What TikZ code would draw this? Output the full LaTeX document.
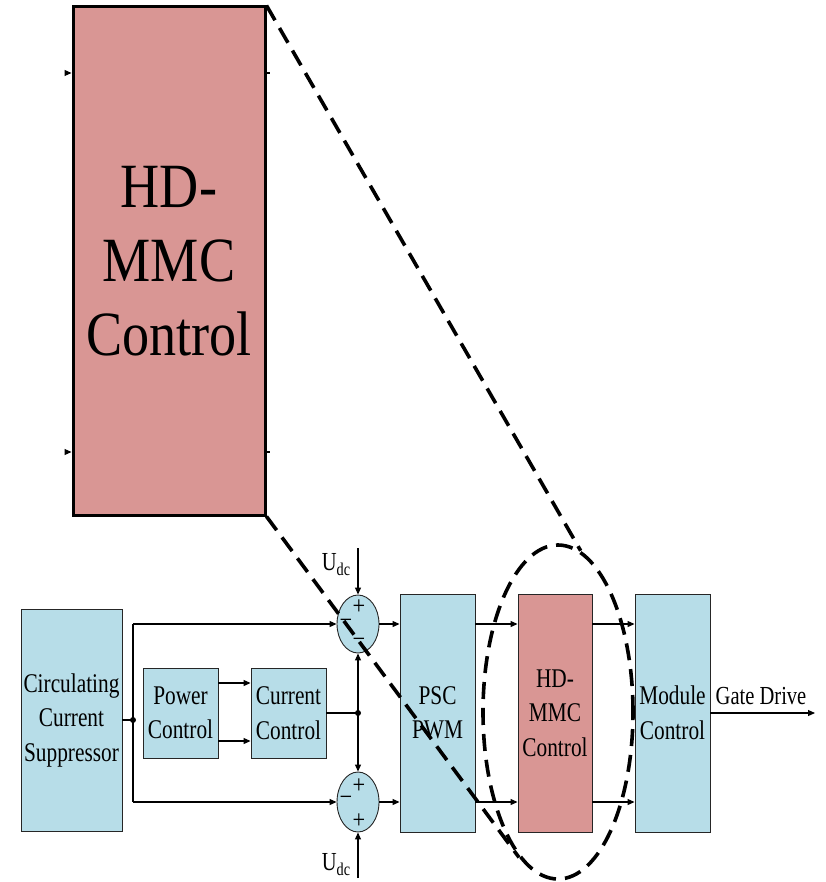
\documentclass[tikz,border=0pt]{standalone}
\usepackage{fontspec}
\newfontfamily\cond[FakeStretch=0.86]{Liberation Serif}
\newfontfamily\condsm[FakeStretch=0.79]{Liberation Serif}
\usetikzlibrary{arrows.meta,shapes.geometric,calc}
\definecolor{boxblue}{HTML}{B7DDE8}
\definecolor{boxred}{HTML}{D99694}
\tikzset{
  blk/.style={draw=black!85,line width=0.9pt,fill=boxblue,inner sep=0pt,align=center,
    font=\condsm\fontsize{27}{34.5}\selectfont},
  redblk/.style={blk,fill=boxred},
  sumnode/.style={ellipse,draw=black!85,line width=0.9pt,fill=boxblue,inner sep=0pt},
  arr/.style={line width=1.1pt,-{Triangle[length=7pt,width=6pt]}},
  wire/.style={line width=1.1pt},
  zoomline/.style={line width=3.6pt,dash pattern=on 17pt off 9pt},
  sgn/.style={inner sep=0pt,font=\cond\fontsize{26}{26}\selectfont},
  lbl/.style={inner sep=0pt,font=\condsm\fontsize{26}{26}\selectfont},
  dotn/.style={circle,fill=black,inner sep=0pt,minimum size=6pt}
}
\begin{document}
\begin{tikzpicture}[x=1pt,y=-1pt]
\useasboundingbox (0,0) rectangle (825,882);
% zoomed box
\node[redblk,line width=3pt,draw=black,minimum width=192pt,minimum height=508pt,
  font=\cond\fontsize{63}{74}\selectfont] (big) at (169,261) {HD-\\MMC\\Control};
\draw[arr] ([xshift=-6pt,yshift=188pt]big.west) -- ([yshift=188pt]big.west);
\draw[arr] ([xshift=-6pt,yshift=-191pt]big.west) -- ([yshift=-191pt]big.west);
\draw[wire] ([yshift=188pt]big.east) -- ++(3,0);
\draw[wire] ([yshift=-191pt]big.east) -- ++(3,0);
% blocks
\node[blk,minimum width=101pt,minimum height=222pt] (ccs) at (71.5,720) {Circulating\\Current\\Suppressor};
\node[blk,minimum width=75pt,minimum height=90pt] (pc) at (180.5,713) {Power\\Control};
\node[blk,minimum width=75pt,minimum height=90pt] (cc) at (288.5,713) {Current\\Control};
\node[sumnode,minimum width=42pt,minimum height=58pt] (s1) at (358,624) {};
\node[sumnode,minimum width=42pt,minimum height=60pt] (s2) at (358,802) {};
\node[blk,minimum width=75pt,minimum height=238pt] (psc) at (437.5,713) {PSC\\PWM};
\node[redblk,minimum width=74pt,minimum height=238pt] (hd) at (555,713) {HD-\\MMC\\Control};
\node[blk,minimum width=75pt,minimum height=238pt] (mod) at (672.5,713) {Module\\Control};
% signs
\node[sgn] at (359,607) {+};
\node[sgn] at (346,624) {−};
\node[sgn] at (359,643) {−};
\node[sgn] at (359,786) {+};
\node[sgn] at (346,801) {−};
\node[sgn] at (359,821) {+};
% coordinates
\coordinate (d1) at (133,720);
\coordinate (d2) at (358,713);
\coordinate (ut) at (358,548);
\coordinate (ub) at (358,878);
\coordinate (gd) at (815,713);
% connectors
\draw[wire] (ccs.east |- d1) -- (d1);
\node[dotn] at (d1) {};
\draw[wire] (d1 |- s1) -- (d1 |- s2);
\draw[arr] (d1 |- s1) -- (s1.west);
\draw[arr] (d1 |- s2) -- (s2.west);
\draw[arr] ([yshift=30pt]pc.east) -- ([yshift=30pt]cc.west);
\draw[arr] ([yshift=-28pt]pc.east) -- ([yshift=-28pt]cc.west);
\draw[wire] (cc.east) -- (d2);
\node[dotn] at (d2) {};
\draw[arr] (d2) -- (s1.south);
\draw[arr] (d2) -- (s2.north);
\draw[arr] (ut) -- (s1.north);
\draw[arr] (ub) -- (s2.south);
\node[lbl] at (336,565) {U\raisebox{-5pt}{\fontsize{18}{18}\selectfont dc}};
\node[lbl] at (336,865) {U\raisebox{-5pt}{\fontsize{18}{18}\selectfont dc}};
\draw[arr] (s1.east) -- (psc.west |- s1);
\draw[arr] (s2.east) -- (psc.west |- s2);
\draw[arr] (psc.east |- s1) -- (hd.west |- s1);
\draw[arr] (psc.east |- s2) -- (hd.west |- s2);
\draw[arr] (hd.east |- s1) -- (mod.west |- s1);
\draw[arr] (hd.east |- s2) -- (mod.west |- s2);
\draw[arr] (mod.east) -- (gd);
\node[lbl] at (761,696) {Gate Drive};
% zoom indication
\node[ellipse,draw=black,zoomline,minimum width=150pt,minimum height=334pt,inner sep=0pt] (ell) at (558,712) {};
\draw[zoomline] (big.north east) -- (ell.82);
\draw[zoomline] (big.south east) -- (ell.255);
\end{tikzpicture}
\end{document}
